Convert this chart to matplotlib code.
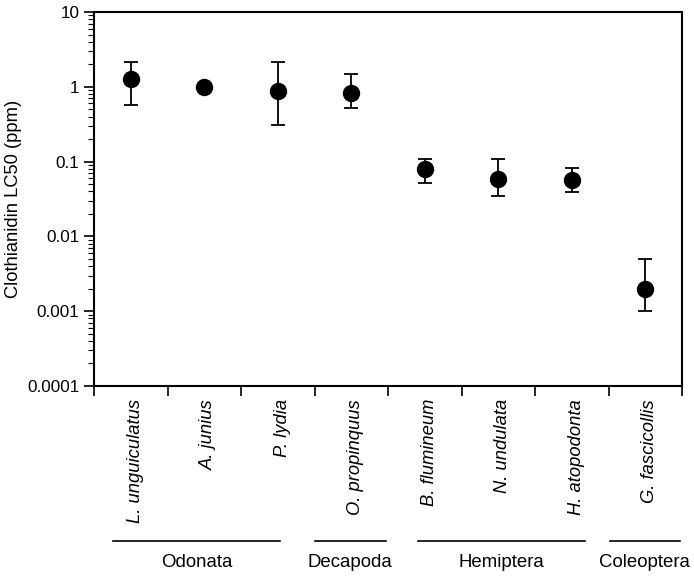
import numpy as np
import matplotlib
matplotlib.use("Agg")
import matplotlib.pyplot as plt
from matplotlib.ticker import LogLocator, NullFormatter, FixedLocator

plt.rcParams['font.family'] = ['Liberation Sans', 'DejaVu Sans']

# data
species = ["L. unguiculatus", "A. junius", "P. lydia", "O. propinquus",
           "B. flumineum", "N. undulata", "H. atopodonta", "G. fascicollis"]
lc50 = [1.27, 1.0, 0.88, 0.82, 0.080, 0.059, 0.056, 0.0020]
upper = [2.15, 1.0, 2.16, 1.48, 0.108, 0.108, 0.083, 0.0050]
lower = [0.577, 1.0, 0.31, 0.52, 0.052, 0.035, 0.039, 0.0010]

groups = ["Odonata", "Decapoda", "Hemiptera", "Coleoptera"]
group_span = [(0.26, 2.53), (3.0, 3.97), (4.41, 6.68), (7.02, 7.97)]

fig = plt.figure(figsize=(6.94, 5.76), dpi=100)
ax = fig.add_axes([94/694, 1 - 386/576, 588/694, 374/576])

x = np.arange(len(species)) + 0.5
lc50 = np.array(lc50)
yerr = [lc50 - np.array(lower), np.array(upper) - lc50]
ax.errorbar(x, lc50, yerr=yerr, fmt='o', color='black', ms=11.5,
            capsize=5, elinewidth=1.3, capthick=1.3)

ax.set_yscale('log')
ax.set_ylim(1e-4, 10)
ax.set_xlim(0, len(species))
ax.set_yticks([1e-4, 1e-3, 1e-2, 0.1, 1, 10])
ax.set_yticklabels(["0.0001", "0.001", "0.01", "0.1", "1", "10"], fontsize=12.3)
ax.yaxis.set_minor_locator(LogLocator(base=10, subs=np.arange(2, 10)))
ax.yaxis.set_minor_formatter(NullFormatter())
ax.tick_params(axis='y', which='major', length=7, width=1.2, direction='out')
ax.tick_params(axis='y', which='minor', length=4, width=0.8, direction='out')
ax.set_ylabel("Clothianidin LC50 (ppm)", fontsize=13.2)

ax.xaxis.set_major_locator(FixedLocator(np.arange(len(species) + 1)))
ax.set_xticklabels([])
ax.tick_params(axis='x', length=7, width=1.2, direction='out')
for s in ax.spines.values():
    s.set_linewidth(1.5)

for xi, name in zip(x, species):
    ax.text(xi + 0.06, -0.035, name, transform=ax.get_xaxis_transform(),
            rotation=90, ha='center', va='top', style='italic', fontsize=13.2)

for name, (a, b) in zip(groups, group_span):
    ax.plot([a, b], [-0.414, -0.414], transform=ax.get_xaxis_transform(),
            color='black', lw=1.2, clip_on=False)
    ax.text((a + b) / 2, -0.472, name, transform=ax.get_xaxis_transform(),
            ha='center', va='center', fontsize=13.4)

fig.savefig("out.png", dpi=100)
